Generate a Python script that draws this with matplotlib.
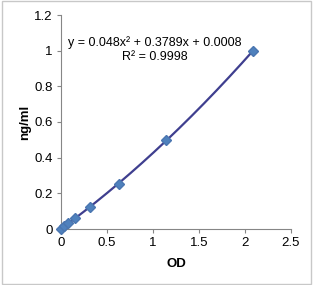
import numpy as np
import matplotlib.pyplot as plt
from matplotlib.patches import Rectangle

plt.rcParams['font.family'] = ['Liberation Sans', 'DejaVu Sans']

od = [0.0, 0.035, 0.075, 0.155, 0.32, 0.63, 1.14, 2.09]
conc = [0.0, 0.0156, 0.031, 0.0625, 0.125, 0.25, 0.5, 1.0]
xticks = [0, 0.5, 1, 1.5, 2, 2.5]
xtick_labels = ['0', '0.5', '1', '1.5', '2', '2.5']
yticks = [0, 0.2, 0.4, 0.6, 0.8, 1, 1.2]
ytick_labels = ['0', '0.2', '0.4', '0.6', '0.8', '1', '1.2']

fig = plt.figure(figsize=(3.13, 2.85), dpi=100)
ax = fig.add_axes([61 / 313, 1 - 229 / 285, 230 / 313, 214 / 285])

# polynomial trendline
coef = np.polyfit(od, conc, 2)
xs = np.linspace(0, max(od), 200)
ax.plot(xs, np.polyval(coef, xs), color='#3f3f8f', lw=1.6, zorder=2, clip_on=False)
ax.plot(od, conc, ls='none', marker='D', ms=5.5, color='#4f81bd',
        markeredgecolor='#4a76b0', zorder=3, clip_on=False)

ax.text(1.02, 1.043, 'y = 0.048x² + 0.3789x + 0.0008', ha='center', va='center', fontsize=9)
ax.text(1.02, 0.965, 'R² = 0.9998', ha='center', va='center', fontsize=9)

ax.set_xlim(0, 2.5)
ax.set_ylim(0, 1.2)
ax.set_xticks(xticks)
ax.set_xticklabels(xtick_labels)
ax.set_yticks(yticks)
ax.set_yticklabels(ytick_labels)
ax.tick_params(labelsize=9.5, length=3, color='#868686', pad=3)
for s in ['top', 'right']:
    ax.spines[s].set_visible(False)
for s in ['left', 'bottom']:
    ax.spines[s].set_color('#868686')
ax.set_xlabel('OD', fontsize=9.5, fontweight='bold', labelpad=6)
ax.set_ylabel('ng/ml', fontsize=9.5, fontweight='bold', labelpad=2)

fig.patches.append(Rectangle((0.005, 0.005), 0.99, 0.99, transform=fig.transFigure,
                             fill=False, edgecolor='#c8c8c8', lw=1))

fig.savefig('out.png', dpi=100)
